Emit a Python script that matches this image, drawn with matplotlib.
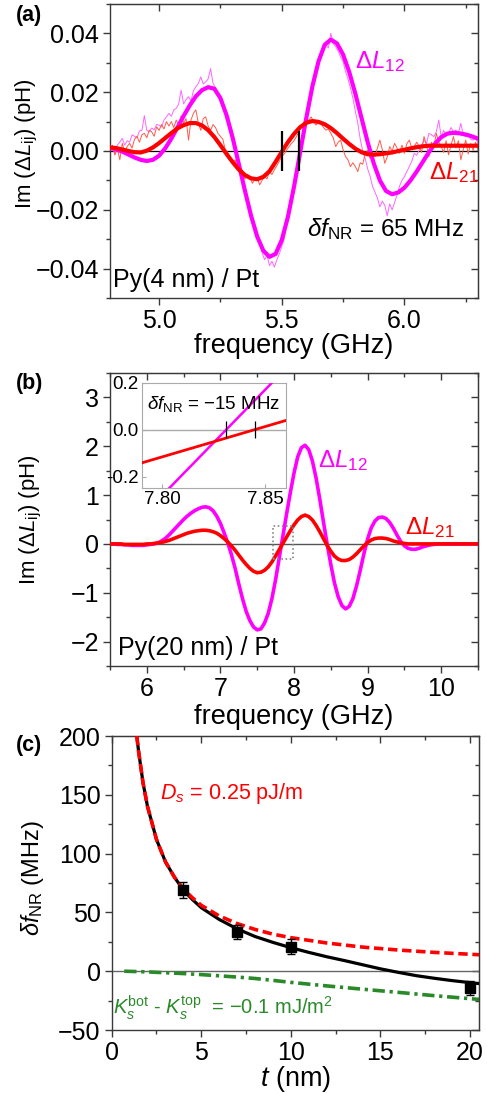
import numpy as np
import matplotlib
matplotlib.use("Agg")
import matplotlib.pyplot as plt
from matplotlib.ticker import MultipleLocator, AutoMinorLocator, FuncFormatter
from matplotlib.patches import Rectangle

plt.rcParams['font.family'] = ['Liberation Sans', 'DejaVu Sans']
plt.rcParams['mathtext.fontset'] = 'custom'
plt.rcParams['mathtext.rm'] = 'Liberation Sans'
plt.rcParams['mathtext.it'] = 'Liberation Sans:italic'
plt.rcParams['mathtext.bf'] = 'Liberation Sans:bold'
plt.rcParams['axes.unicode_minus'] = True

MAG = '#ff00ff'
RED = '#ff0000'
GREEN = '#2a8a2a'
FRAME = '#3a3a3a'

# ---------------- panel (a) data: Py(4 nm)/Pt ----------------
freq_a_raw = np.round(np.arange(4.80, 6.3001, 0.01), 2)
L12_a_raw = [0.0000, 0.0015, -0.0010, 0.0020, 0.0030, 0.0043, 0.0020, 0.0035, 0.0030, 0.0055,
             0.0050, 0.0045, 0.0068, 0.0070, 0.0120, 0.0070, 0.0065, 0.0078, 0.0072, 0.0090,
             0.0088, 0.0082, 0.0105, 0.0116, 0.0128, 0.0118, 0.0140, 0.0145, 0.0160, 0.0207,
             0.0160, 0.0175, 0.0185, 0.0170, 0.0205, 0.0218, 0.0230, 0.0252, 0.0228, 0.0235,
             0.0245, 0.0280, 0.0230, 0.0215, 0.0200, 0.0185, 0.0160, 0.0135, 0.0105, 0.0080,
             0.0045, 0.0010, -0.0030, -0.0075, -0.0100, -0.0140, -0.0165, -0.0210, -0.0240, -0.0265,
             -0.0295, -0.0310, -0.0345, -0.0370, -0.0355, -0.0390, -0.0375, -0.0395, -0.0370, -0.0350,
             -0.0325, -0.0300, -0.0250, -0.0215, -0.0165, -0.0125, -0.0080, -0.0020, 0.0030, 0.0085,
             0.0125, 0.0160, 0.0200, 0.0235, 0.0265, 0.0300, 0.0320, 0.0345, 0.0360, 0.0350,
             0.0400, 0.0365, 0.0355, 0.0340, 0.0320, 0.0305, 0.0270, 0.0245, 0.0215, 0.0180,
             0.0135, 0.0095, 0.0040, 0.0000, -0.0025, -0.0060, -0.0085, -0.0120, -0.0140, -0.0160,
             -0.0190, -0.0170, -0.0185, -0.0220, -0.0180, -0.0200, -0.0175, -0.0150, -0.0120, -0.0100,
             -0.0087, -0.0070, -0.0053, -0.0035, -0.0008, -0.0015, 0.0003, 0.0020, 0.0037, 0.0025,
             0.0060, 0.0055, 0.0049, 0.0065, 0.0105, 0.0049, 0.0070, 0.0055, 0.0060, 0.0080,
             0.0065, 0.0071, 0.0060, 0.0094, 0.0055, 0.0049, 0.0060, 0.0040, 0.0037, 0.0045,
             0.0026]
L21_a_raw = [0.0003, 0.0020, -0.0014, 0.0010, -0.0030, 0.0026, -0.0005, 0.0015, 0.0026, 0.0010,
             0.0040, 0.0050, 0.0030, 0.0055, 0.0060, 0.0045, 0.0071, 0.0065, 0.0050, 0.0082,
             0.0070, 0.0090, 0.0075, 0.0100, 0.0085, 0.0100, 0.0080, 0.0105, 0.0088, 0.0120,
             0.0095, 0.0110, 0.0037, 0.0105, 0.0128, 0.0140, 0.0095, 0.0070, 0.0110, 0.0116,
             0.0085, 0.0070, 0.0090, 0.0080, 0.0060, 0.0050, 0.0040, 0.0003, -0.0005, -0.0025,
             -0.0040, -0.0030, -0.0060, -0.0075, -0.0065, -0.0095, -0.0080, -0.0087, -0.0110, -0.0098,
             -0.0090, -0.0115, -0.0100, -0.0087, -0.0095, -0.0070, -0.0080, -0.0064, -0.0050, -0.0035,
             -0.0019, -0.0010, 0.0003, 0.0015, 0.0026, 0.0035, 0.0049, 0.0065, 0.0082, 0.0085,
             0.0094, 0.0105, 0.0116, 0.0100, 0.0088, 0.0098, 0.0094, 0.0080, 0.0071, 0.0075,
             0.0060, 0.0045, 0.0015, 0.0030, 0.0037, 0.0005, -0.0019, -0.0030, -0.0053, -0.0040,
             -0.0053, -0.0070, -0.0040, -0.0045, -0.0010, 0.0003, -0.0025, -0.0010, -0.0019, 0.0010,
             0.0037, 0.0005, -0.0042, -0.0020, 0.0015, 0.0000, 0.0026, 0.0010, -0.0008, 0.0020,
             -0.0008, 0.0025, 0.0037, 0.0010, 0.0015, 0.0030, 0.0015, -0.0005, 0.0049, 0.0020,
             -0.0019, 0.0030, 0.0015, 0.0060, 0.0030, 0.0015, -0.0005, 0.0035, -0.0013, 0.0020,
             0.0049, 0.0010, 0.0035, -0.0030, 0.0005, 0.0037, -0.0010, 0.0025, 0.0003, 0.0030,
             0.0003]

freq_a_fit = np.round(np.arange(4.80, 6.3001, 0.025), 3)
L12_a_fit = [0.0010, 0.0006, -0.0002, -0.0012, -0.0022, -0.0030, -0.0034, -0.0030, -0.0016, 0.0009,
             0.0042, 0.0080, 0.0119, 0.0155, 0.0186, 0.0207, 0.0217, 0.0212, 0.0180, 0.0122,
             0.0045, -0.0044, -0.0135, -0.0220, -0.0291, -0.0339, -0.0360, -0.0350, -0.0303, -0.0225,
             -0.0122, -0.0005, 0.0112, 0.0220, 0.0305, 0.0361, 0.0379, 0.0366, 0.0328, 0.0269,
             0.0195, 0.0113, 0.0031, -0.0042, -0.0100, -0.0136, -0.0147, -0.0141, -0.0125, -0.0100,
             -0.0070, -0.0037, -0.0004, 0.0025, 0.0047, 0.0059, 0.0062, 0.0060, 0.0056, 0.0050,
             0.0042]
L21_a_fit = [0.0012, 0.0010, 0.0005, 0.0000, -0.0004, -0.0005, 0.0001, 0.0012, 0.0027, 0.0044,
             0.0061, 0.0077, 0.0088, 0.0095, 0.0095, 0.0087, 0.0071, 0.0048, 0.0020, -0.0010,
             -0.0038, -0.0063, -0.0082, -0.0093, -0.0096, -0.0088, -0.0069, -0.0037, -0.0003, 0.0030,
             0.0058, 0.0081, 0.0096, 0.0102, 0.0099, 0.0091, 0.0078, 0.0061, 0.0042, 0.0024,
             0.0008, -0.0004, -0.0011, -0.0012, -0.0011, -0.0008, -0.0005, 0.0000, 0.0004, 0.0009,
             0.0013, 0.0016, 0.0018, 0.0018, 0.0018, 0.0018, 0.0018, 0.0018, 0.0018, 0.0018,
             0.0018]
cross_a = [5.50, 5.572]          # zero crossings of the two fits
cross_a_half = 0.0068

# ---------------- panel (b) data: Py(20 nm)/Pt ----------------
freq_b = np.round(np.arange(5.50, 10.5001, 0.05), 2)
L12_b = [0.00, 0.00, -0.01, -0.01, -0.02, -0.02, -0.03, -0.03, -0.03, -0.03,
         -0.02, -0.01, 0.00, 0.02, 0.06, 0.11, 0.18, 0.26, 0.34, 0.42,
         0.50, 0.57, 0.63, 0.68, 0.72, 0.75, 0.76, 0.74, 0.68, 0.57,
         0.42, 0.23, 0.02, -0.22, -0.50, -0.82, -1.12, -1.38, -1.57, -1.70,
         -1.76, -1.74, -1.62, -1.42, -1.12, -0.73, -0.28, 0.17, 0.62, 1.05,
         1.45, 1.78, 1.97, 2.02, 1.93, 1.70, 1.35, 0.92, 0.45, 0.00,
         -0.42, -0.80, -1.08, -1.26, -1.33, -1.28, -1.12, -0.86, -0.54, -0.20,
         0.10, 0.33, 0.47, 0.54, 0.55, 0.52, 0.44, 0.32, 0.18, 0.05,
         -0.04, -0.09, -0.11, -0.11, -0.09, -0.06, -0.04, -0.02, -0.01, 0.00,
         0.00, 0.00, 0.00, 0.00, 0.00, 0.00, 0.00, 0.00, 0.00, 0.00, 0.00]
L21_b = [0.00, 0.00, 0.00, 0.00, -0.01, -0.01, -0.01, -0.01, -0.01, -0.01,
         0.00, 0.00, 0.01, 0.02, 0.03, 0.05, 0.07, 0.10, 0.13, 0.16,
         0.19, 0.22, 0.24, 0.26, 0.27, 0.28, 0.28, 0.27, 0.25, 0.22,
         0.17, 0.11, 0.04, -0.04, -0.13, -0.23, -0.33, -0.42, -0.50, -0.56,
         -0.59, -0.58, -0.54, -0.47, -0.37, -0.245, -0.116, 0.013, 0.142, 0.27,
         0.39, 0.49, 0.56, 0.59, 0.56, 0.49, 0.38, 0.25, 0.11, -0.03,
         -0.15, -0.25, -0.31, -0.34, -0.34, -0.32, -0.27, -0.20, -0.12, -0.04,
         0.03, 0.08, 0.11, 0.12, 0.12, 0.11, 0.09, 0.06, 0.04, 0.02,
         0.01, 0.00, 0.00, 0.00, 0.00, 0.00, 0.00, 0.00, 0.00, 0.00,
         0.00, 0.00, 0.00, 0.00, 0.00, 0.00, 0.00, 0.00, 0.00, 0.00, 0.00]
cross_b = [7.831, 7.845]
cross_b_half = 0.035
zoom_box = (7.72, -0.31, 0.27, 0.68)

# ---------------- panel (c) data ----------------
t_meas = [4, 7, 10, 20]
df_meas = [69, 33, 21, -14]
df_err = [6.5, 6, 6, 6]

t_total = [1.4, 1.5, 1.75, 2, 2.5, 3, 3.5, 4, 4.5, 5, 6, 7, 8, 9, 10, 11, 12, 13, 14, 15,
           16, 17, 18, 19, 20, 20.5]
df_total = [200, 187, 160, 140, 112, 93, 80, 69, 61, 54, 44, 36, 29.5, 24.5, 20, 16, 12.3, 9, 5.5, 2,
            -1, -3.8, -6, -8, -9.7, -10.5]
t_dmi = [1.4, 1.5, 1.75, 2, 2.5, 3, 3.5, 4, 4.5, 5, 6, 7, 8, 9, 10, 12, 14, 16, 18, 20.5]
df_dmi = [200, 187, 160, 140, 112, 93, 80, 70, 62.5, 56, 47, 40.5, 35.5, 31.5, 28.5, 24, 20.5, 18, 16, 14]
t_anis = [0.7, 2, 3, 4, 5, 6, 7, 8, 9, 10, 12, 14, 16, 18, 20.5]
df_anis = [0, -0.6, -1.3, -2.0, -2.9, -3.9, -5.0, -6.2, -7.8, -9.5, -12.5, -15.3, -18, -20.8, -24]

MINUS = '\u2212'


def minus(fmt):
    return FuncFormatter(lambda v, p: (fmt % v).replace('-', MINUS))


def style(ax, xmaj, ymaj, fs):
    for s in ax.spines.values():
        s.set_color(FRAME)
        s.set_linewidth(1.0)
    ax.xaxis.set_major_locator(MultipleLocator(xmaj))
    ax.yaxis.set_major_locator(MultipleLocator(ymaj))
    ax.xaxis.set_minor_locator(AutoMinorLocator(2))
    ax.yaxis.set_minor_locator(AutoMinorLocator(2))
    ax.tick_params(which='both', direction='out', color=FRAME, labelsize=fs, pad=3)
    ax.tick_params(which='major', length=5, width=1)
    ax.tick_params(which='minor', length=3, width=1)
    # mirrored ticks pointing inwards on top and right
    sx = ax.secondary_xaxis('top')
    sx.xaxis.set_major_locator(MultipleLocator(xmaj))
    sx.xaxis.set_minor_locator(AutoMinorLocator(2))
    sx.tick_params(which='both', direction='in', labeltop=False, color=FRAME)
    sx.tick_params(which='major', length=5, width=1)
    sx.tick_params(which='minor', length=3, width=1)
    sx.spines['top'].set_color(FRAME)
    sy = ax.secondary_yaxis('right')
    sy.yaxis.set_major_locator(MultipleLocator(ymaj))
    sy.yaxis.set_minor_locator(AutoMinorLocator(2))
    sy.tick_params(which='both', direction='in', labelright=False, color=FRAME)
    sy.tick_params(which='major', length=5, width=1)
    sy.tick_params(which='minor', length=3, width=1)
    sy.spines['right'].set_color(FRAME)


fig = plt.figure(figsize=(4.87, 10.94), dpi=100)
W, H = 487.0, 1094.0


def box(x0, y0, x1, y1):
    return [x0 / W, 1 - y1 / H, (x1 - x0) / W, (y1 - y0) / H]


TICK = 18
XLAB = 19.5
YLAB = 16
ANN = 17.5

# ---------------- (a) ----------------
ax = fig.add_axes(box(110, 4, 478, 298))
ax.axhline(0, color='black', lw=0.9, zorder=1)
ax.plot(freq_a_raw, L12_a_raw, color='#ff66ff', lw=0.7, zorder=2)
ax.plot(freq_a_raw, L21_a_raw, color='#ff5a4a', lw=0.7, zorder=2)
ax.plot(freq_a_fit, L12_a_fit, color=MAG, lw=3.0, zorder=3)
ax.plot(freq_a_fit, L21_a_fit, color=RED, lw=3.0, zorder=4)
ax.vlines(cross_a, -cross_a_half, cross_a_half, color='black', lw=1.6, zorder=5)
ax.set_xlim(4.8, 6.3)
ax.set_ylim(-0.05, 0.05)
style(ax, 0.5, 0.02, TICK)
ax.xaxis.set_major_formatter(minus('%.1f'))
ax.yaxis.set_major_formatter(minus('%.2f'))
ax.set_xlabel('frequency (GHz)', fontsize=XLAB)
ax.set_ylabel(r'Im ($\Delta L_{\mathrm{ij}}$) (pH)', fontsize=YLAB)
ax.xaxis.set_label_coords(0.5, -0.118)
ax.yaxis.set_label_coords(-0.19, 0.525)
ax.text(5.80, 0.0305, r'$\Delta L_{12}$', color=MAG, fontsize=ANN, va='center')
ax.text(6.10, -0.0072, r'$\Delta L_{21}$', color=RED, fontsize=ANN, va='center')
ax.text(5.605, -0.0265, r'$\delta f_{\mathrm{NR}}$ = 65 MHz', color='black', fontsize=ANN, va='center')
ax.text(0.008, 0.062, 'Py(4 nm) / Pt', transform=ax.transAxes, fontsize=ANN + 0.5, va='center')
fig.text(16 / W, 1 - 15 / H, '(a)', fontsize=15.5, fontweight='bold', va='center')

# ---------------- (b) ----------------
ax = fig.add_axes(box(110, 373, 478, 666))
ax.axhline(0, color='#555555', lw=1.0, zorder=1)
ax.plot(freq_b, L12_b, color=MAG, lw=2.6, zorder=3)
ax.plot(freq_b, L21_b, color=RED, lw=2.6, zorder=4)
ax.add_patch(Rectangle(zoom_box[:2], zoom_box[2], zoom_box[3], fill=False,
                       ec='#888888', lw=1.2, ls=(0, (1, 1.5)), zorder=5))
ax.set_xlim(5.5, 10.5)
ax.set_ylim(-2.5, 3.5)
style(ax, 1, 1, TICK)
ax.xaxis.set_major_formatter(minus('%d'))
ax.yaxis.set_major_formatter(minus('%d'))
ax.set_xlabel('frequency (GHz)', fontsize=XLAB)
ax.set_ylabel(r'Im ($\Delta L_{\mathrm{ij}}$) (pH)', fontsize=YLAB)
ax.xaxis.set_label_coords(0.5, -0.13)
ax.yaxis.set_label_coords(-0.18, 0.498)
ax.text(8.33, 1.70, r'$\Delta L_{12}$', color=MAG, fontsize=ANN, va='center')
ax.text(9.51, 0.33, r'$\Delta L_{21}$', color=RED, fontsize=ANN, va='center')
ax.text(0.022, 0.062, 'Py(20 nm) / Pt', transform=ax.transAxes, fontsize=ANN + 0.5, va='center')
fig.text(16 / W, 1 - 384 / H, '(b)', fontsize=15.5, fontweight='bold', va='center')

# inset
ins = fig.add_axes(box(141.7, 382.7, 285.7, 488.3))
ins.axhline(0, color='#aaaaaa', lw=1.0, zorder=1)
ins.plot(freq_b, L12_b, color=MAG, lw=1.8, zorder=3)
ins.plot(freq_b, L21_b, color=RED, lw=2.0, zorder=4)
ins.vlines(cross_b, -cross_b_half, cross_b_half, color='black', lw=0.9, zorder=5)
ins.set_xlim(7.79, 7.86)
ins.set_ylim(-0.25, 0.2)
for s in ins.spines.values():
    s.set_color('#aaaaaa')
ins.set_xticks([7.80, 7.85])
ins.set_yticks([-0.2, 0.0, 0.2])
ins.xaxis.set_major_formatter(minus('%.2f'))
ins.yaxis.set_major_formatter(FuncFormatter(lambda v, p: '%.1f' % v))
ins.tick_params(direction='in', length=3, color='#aaaaaa', labelsize=13.5, pad=2)
ins.text(0.04, 0.80, r'$\delta f_{\mathrm{NR}}$ = ' + MINUS + '15 MHz',
         transform=ins.transAxes, fontsize=13.5, va='center')

# ---------------- (c) ----------------
ax = fig.add_axes(box(111.7, 736, 479, 1030))
ax.axhline(0, color='#666666', lw=1.0, zorder=1)
ax.plot(t_anis, df_anis, color=GREEN, lw=2.6, ls=(0, (3.4, 1.3, 0.9, 1.3)), zorder=2)
ax.plot(t_total, df_total, color='black', lw=2.3, zorder=3)
ax.plot(t_dmi, df_dmi, color=RED, lw=2.6, ls=(0, (2.6, 1.3)), zorder=4)
ax.errorbar(t_meas, df_meas, yerr=df_err, fmt='s', color='black', ms=7,
            elinewidth=1.0, capsize=3, capthick=1.0, zorder=5)
ax.set_xlim(0, 20.5)
ax.set_ylim(-50, 200)
style(ax, 5, 50, TICK)
ax.xaxis.set_major_formatter(minus('%d'))
ax.yaxis.set_major_formatter(minus('%d'))
ax.set_xlabel(r'$t$ (nm)', fontsize=XLAB)
ax.set_ylabel(r'$\delta f_{\mathrm{NR}}$ (MHz)', fontsize=YLAB + 1)
ax.xaxis.set_label_coords(0.5, -0.115)
ax.yaxis.set_label_coords(-0.18, 0.517)
ax.text(2.7, 151, r'$D_s$ = 0.25 pJ/m', color=RED, fontsize=15.5, va='center')
ax.text(0.1, -31, r'$K_s^{\mathrm{bot}}$ - $K_s^{\mathrm{top}}$  = ' + MINUS + '0.1 mJ/m$^2$',
        color=GREEN, fontsize=14.5, va='center')
fig.text(16 / W, 1 - 745 / H, '(c)', fontsize=15.5, fontweight='bold', va='center')

fig.savefig('out.png', dpi=100)
